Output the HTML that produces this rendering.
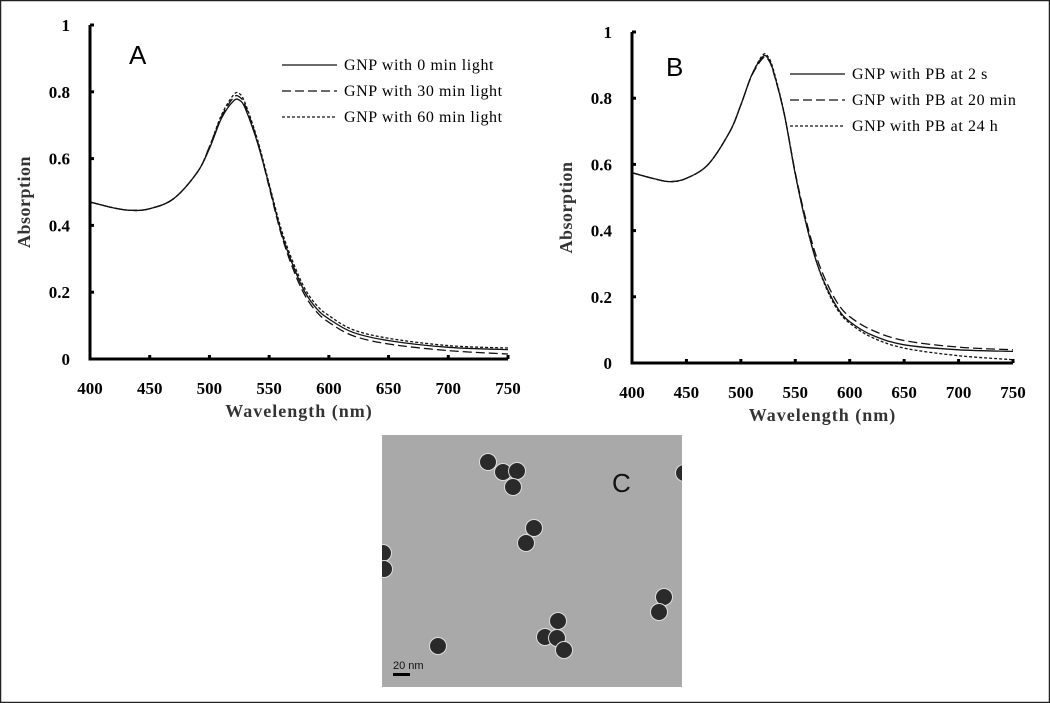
<!DOCTYPE html>
<html><head><meta charset="utf-8"><style>
body{margin:0;background:#fff;}
svg{display:block;font-family:"Liberation Serif",serif;}
</style></head><body>
<svg width="1050" height="703" viewBox="0 0 1050 703" id="fig">
<rect x="0.5" y="0.5" width="1049" height="702" fill="#fff" stroke="#222" stroke-width="1.5"/>
<g id="tem">
<rect x="382" y="435" width="300" height="252" fill="#a9a9a9"/>
<text x="612" y="492" font-family="Liberation Sans,sans-serif" font-size="26" fill="#111">C</text>
<rect x="393" y="673" width="17" height="3" fill="#000"/>
<text x="393" y="669" font-family="Liberation Sans,sans-serif" font-size="11" fill="#111">20 nm</text>
</g>
</svg>
<script>
// ---- data ----
const wavelengths = [400,420,435,450,470,490,500,510,520,525,530,540,550,560,570,580,590,600,620,650,700,750];
const seriesA0  = [0.47,0.452,0.445,0.45,0.48,0.56,0.63,0.72,0.772,0.775,0.75,0.65,0.52,0.38,0.28,0.2,0.15,0.12,0.08,0.055,0.035,0.028];
const seriesA30 = [0.47,0.452,0.445,0.45,0.48,0.56,0.635,0.725,0.782,0.785,0.758,0.655,0.515,0.375,0.27,0.19,0.14,0.11,0.07,0.045,0.025,0.015];
const seriesA60 = [0.47,0.452,0.445,0.45,0.48,0.56,0.635,0.73,0.79,0.795,0.765,0.66,0.525,0.39,0.29,0.21,0.16,0.13,0.088,0.062,0.04,0.033];
const seriesB2s  = [0.575,0.557,0.548,0.558,0.6,0.7,0.78,0.87,0.925,0.92,0.88,0.75,0.57,0.42,0.3,0.22,0.16,0.125,0.085,0.055,0.04,0.035];
const seriesB20m = [0.575,0.557,0.548,0.558,0.6,0.7,0.78,0.868,0.92,0.917,0.878,0.75,0.575,0.43,0.315,0.235,0.175,0.14,0.1,0.068,0.048,0.04];
const seriesB24h = [0.575,0.557,0.548,0.558,0.6,0.7,0.78,0.87,0.93,0.925,0.885,0.752,0.57,0.42,0.3,0.215,0.155,0.12,0.078,0.045,0.022,0.01];
const xTicks = [400,450,500,550,600,650,700,750];
const yTicks = [0,0.2,0.4,0.6,0.8,1];
const yTickLabels = ["0","0.2","0.4","0.6","0.8","1"];
const legendA = ["GNP with 0 min light","GNP with 30 min light","GNP with 60 min light"];
const legendB = ["GNP with PB at 2 s","GNP with PB at 20 min","GNP with PB at 24 h"];
const particles = [[488,462],[503,472],[517,471],[513,487],[534,528],[526,543],[383,553],[384,569],[684,473],[558,621],[545,637],[557,638],[564,650],[438,646],[664,597],[659,612]];

const NS="http://www.w3.org/2000/svg";
const svg=document.getElementById('fig');
function mk(tag,attrs,parent){const e=document.createElementNS(NS,tag);for(const k in attrs)e.setAttribute(k,attrs[k]);(parent||svg).appendChild(e);return e;}

const tem=document.getElementById('tem');
const clip=mk('clipPath',{id:'temclip'});mk('rect',{x:382,y:435,width:300,height:252},clip);
tem.setAttribute('clip-path','url(#temclip)');
particles.forEach(p=>{
  const c=mk('circle',{cx:p[0],cy:p[1],r:8.5,fill:'#2a2a2a',stroke:'#ddd','stroke-width':1},tem);
  
  
});

function smoothPath(pts){
  let d='M'+pts[0][0].toFixed(1)+','+pts[0][1].toFixed(1);
  for(let i=0;i<pts.length-1;i++){
    const p0=pts[Math.max(i-1,0)],p1=pts[i],p2=pts[i+1],p3=pts[Math.min(i+2,pts.length-1)];
    const c1=[p1[0]+(p2[0]-p0[0])/6,p1[1]+(p2[1]-p0[1])/6];
    const c2=[p2[0]-(p3[0]-p1[0])/6,p2[1]-(p3[1]-p1[1])/6];
    d+=' C'+c1[0].toFixed(1)+','+c1[1].toFixed(1)+' '+c2[0].toFixed(1)+','+c2[1].toFixed(1)+' '+p2[0].toFixed(1)+','+p2[1].toFixed(1);
  }
  return d;
}

function panel(cfg){
  const g=mk('g',{});
  
  
  const sx=v=>cfg.x0+(v-400)/(750-400)*(cfg.x1-cfg.x0);
  const sy=v=>cfg.y0-v*(cfg.y0-cfg.y1);
  const dashes=['none','9,4','3,2'];
  cfg.series.forEach((s,i)=>{
    const p=mk('path',{d:smoothPath(wavelengths.map((w,j)=>[sx(w),sy(s[j])])),fill:'none',stroke:'#111','stroke-width':1.3,'stroke-dasharray':dashes[i]},g);
    
    
  });
  const ax=mk('path',{d:'M'+cfg.x0+','+sy(1)+' V'+cfg.y0+' H'+cfg.x1,fill:'none',stroke:'#000','stroke-width':3},g);
  
  
  xTicks.forEach(t=>{
    mk('line',{x1:sx(t),x2:sx(t),y1:cfg.y0,y2:cfg.y0-4,stroke:'#000','stroke-width':3},g);
    const tx=mk('text',{x:sx(t),y:cfg.y0+35,'text-anchor':'middle','font-size':17,'font-weight':'bold'},g);
    tx.textContent=t;
    
    
  });
  yTicks.forEach((t,i)=>{
    mk('line',{x1:cfg.x0,x2:cfg.x0+4,y1:sy(t),y2:sy(t),stroke:'#000','stroke-width':3},g);
    const tx=mk('text',{x:cfg.x0-20,y:sy(t)+6,'text-anchor':'end','font-size':17,'font-weight':'bold'},g);
    tx.textContent=yTickLabels[i];
    
    
  });
  const xt=mk('text',{x:(cfg.x0+cfg.x1)/2,y:cfg.y0+58,'text-anchor':'middle','font-size':18,'font-weight':'bold','letter-spacing':1,fill:'#333'},g);
  xt.textContent='Wavelength (nm)';
  
  
  const yc=(cfg.y0+sy(1))/2+10;
  const yx=cfg.x0-60;
  const yt=mk('text',{x:yx,y:yc,'text-anchor':'middle','font-size':18,'font-weight':'bold','letter-spacing':0.5,fill:'#333',transform:'rotate(-90 '+yx+' '+yc+')'},g);
  yt.textContent='Absorption';
  
  
  const pl=mk('text',{x:cfg.labelX,y:cfg.labelY,'font-size':26,'font-family':'Liberation Sans,sans-serif'},g);
  pl.textContent=cfg.label;
  
  
  cfg.legend.forEach((l,i)=>{
    const y=cfg.legY+i*26;
    const ln=mk('line',{x1:cfg.legX,x2:cfg.legX+55,y1:y,y2:y,stroke:'#111','stroke-width':1.3,'stroke-dasharray':dashes[i]},g);
    
    
    const t=mk('text',{x:cfg.legX+62,y:y+5,'font-size':16,'letter-spacing':0.6},g);
    t.textContent=l;
    
    
  });
}
panel({name:'panel-a-chart',x0:90,x1:508,y0:359,y1:25,series:[seriesA0,seriesA30,seriesA60],legend:legendA,label:'A',labelX:129,labelY:64,legX:282,legY:65});
panel({name:'panel-b-chart',x0:632,x1:1013,y0:363,y1:32,series:[seriesB2s,seriesB20m,seriesB24h],legend:legendB,label:'B',labelX:666,labelY:76,legX:790,legY:74});
</script>
</body></html>
